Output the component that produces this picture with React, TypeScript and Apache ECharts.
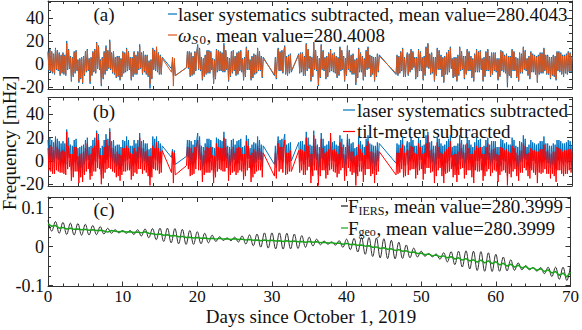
import React, { useEffect, useRef } from "react";
import * as echarts from "echarts";

// ---------- data ----------
// sampling segments of the noisy series (days); gaps between them are straight joins
const segments: [number, number][] = [
  [0, 15.25], [16.5, 17], [18.5, 28.75], [30.25, 32.5], [33.5, 44.25], [46.5, 70],
];
const sampleStep = 0.125;

// panel (a)/(b): laser systematics subtracted [mHz]
const laserSub = [
  // 0 – 15.25
  11,-6,13,-7,11,-8,9,-9, 14,-5,12,-6,10,-10,8,-8, 10,-9,8,-10,20,-5,13,-4, 7,-15,6,-11,11,-8,12,-6,
  4,-16,5,-13,6,-17,7,-10, 11,-7,13,-6,5,-17,6,-10, 11,-7,13,-8,19,-4,16,-5, 4,-19,6,-13,11,-9,16,-6,
  12,-4,21,-5,10,-8,11,-9, 6,-12,7,-11,7,-14,5,-11, 11,-8,10,-7,14,-6,11,-5, 6,-14,6,-11,11,-9,8,-9,
  11,-5,17,-4,10,-9,11,-7, 8,-9,8,-11,3,-21,4,-13, 14,-5,12,-6,14,-7,10,-9, 8,-9,6,
  // 16.5 – 17
  -4,3,-10,2,-10,
  // 18.5 – 28.75
  -3,11,-4,11,
  -11,10,-10,7,-9,11,-6,11, 17,-5,14,-6,6,-14,5,-11, 8,-9,12,-8,12,-8,11,-5, 5,-17,4,-13,13,-7,12,-6,
  11,-6,10,-7,18,-7,12,-5, 6,-15,5,-11,11,-8,12,-6, 7,-10,10,-9,11,-6,12,-7, 5,-14,6,-11,15,-5,12,-5,
  4,-14,7,-12,9,-9,8,-8, 14,-6,11,-6,7,-12,6,
  // 30.25 – 32.5
  -10,6,-13,5,14,-6,11,-6,12,-8,11,16,-9,7,-10,8,-8,9,-7,
  // 33.5 – 44.25
  9,-8,10,-7,
  10,-10,7,-10,18,-6,13,-4, 7,-15,6,-11,19,-5,12,-6, 7,-19,5,-12,17,-5,12,-6, 6,-13,7,-11,10,-7,13,-6,
  9,-7,10,-8,7,-12,6,-10, 15,-6,12,-5,7,-15,5,-10, 16,-5,12,-7,8,-9,9,-9, 4,-18,5,-12,14,-7,10,-7,
  7,-14,5,-11,12,-5,15,-4, 8,-11,7,-9,6,-15,6,-11, 9,-7,8,
  // 46.5 – 70
  -9,8,-10,7,
  -8,11,-6,14,-11,6,-11,5, 10,-10,9,-7,13,-5,11,-3, 6,-13,6,-11,13,-6,11,-6, 6,-14,7,-10,15,-3,18,-4,
  9,-9,10,-8,6,-15,6,-10, 14,-5,12,-5,8,-11,6,-16, 7,-9,10,-9,12,-7,15,-4, 5,-12,6,-11,6,-15,8,-10,
  15,-6,11,-5,7,-13,7,-9, 13,-6,11,-6,7,-12,5,-15, 9,-7,13,-7,11,-7,12,-5, 5,-15,6,-11,11,-6,13,-6,
  7,-11,10,-9,10,-6,10,-7, 5,-14,5,-11,12,-6,11,-7, 8,-8,9,-20,7,-10,7,-12, 13,-6,11,-6,6,-12,5,-15,
  10,-8,9,-8,15,-5,12,-6, 5,-10,7,-13,11,-7,9,-7, 8,-9,7,-16,8,-9,10,-8, 10,-8,14,-6,8,-9,8,-9,
  6,-13,6,-10,8,-11,7,-14, 11,-6,11,-7,10,-9,8,-11, 8,-8,9,-9,11,-7,10,-7, 7,
];
// panel (a): omega_S0 [mHz]
const omegaS0 = [
  // 0 – 15.25
  10,-5,12,-6,10,-7,8,-8, 13,-4,11,-5,9,-9,7,-7, 9,-8,7,-9,18,-4,12,-3, 6,-14,5,-10,10,-7,11,-5,
  3,-15,4,-12,5,-16,6,-9, 10,-6,12,-5,4,-15,5,-9, 10,-6,12,-7,18,-3,15,-4, 3,-17,5,-12,10,-8,14,-5,
  11,-3,19,-4,9,-7,10,-8, 5,-11,6,-10,6,-13,4,-10, 10,-7,9,-6,13,-5,10,-4, 5,-13,5,-10,10,-8,7,-8,
  10,-4,15,-3,9,-8,10,-6, 7,-8,7,-10,2,-17,3,-12, 13,-4,11,-5,15,-6,9,-8, 7,-8,5,
  // 16.5 – 17
  -7,6,-19,5,-10,
  // 18.5 – 28.75
  -3,10,-3,10,
  -10,9,-9,6,-8,10,-5,10, 15,-4,13,-5,5,-13,4,-10, 7,-8,11,-7,11,-7,10,-4, 4,-16,3,-12,12,-6,11,-5,
  10,-5,9,-6,16,-6,11,-4, 5,-14,4,-10,10,-7,11,-5, 6,-9,9,-8,10,-5,11,-6, 4,-13,5,-10,14,-4,11,-4,
  3,-13,6,-11,8,-8,7,-7, 13,-5,10,-5,6,-11,5,
  // 30.25 – 32.5
  -9,5,-12,4,13,-5,10,-5,11,-7,10,15,-8,6,-9,7,-7,8,-6,
  // 33.5 – 44.25
  8,-7,9,-6,
  9,-9,6,-9,17,-5,12,-3, 6,-14,5,-10,18,-4,11,-5, 6,-18,4,-11,16,-4,11,-5, 5,-12,6,-10,9,-6,12,-5,
  8,-6,9,-7,6,-11,5,-9, 14,-5,11,-4,6,-14,4,-9, 15,-4,11,-6,7,-8,8,-8, 3,-16,4,-11,13,-6,9,-6,
  6,-13,4,-10,11,-4,14,-3, 7,-10,6,-8,5,-14,5,-10, 8,-6,7,
  // 46.5 – 70
  -8,7,-9,6,
  -7,10,-5,13,-10,5,-10,4, 9,-9,8,-6,12,-4,10,-2, 5,-12,5,-10,12,-5,10,-5, 5,-13,6,-9,14,-2,17,-3,
  8,-8,9,-7,5,-14,5,-9, 13,-4,11,-4,7,-10,5,-15, 6,-8,9,-8,11,-6,14,-3, 4,-11,5,-10,5,-14,7,-9,
  14,-5,10,-4,6,-12,6,-8, 12,-5,10,-5,6,-11,4,-14, 8,-6,12,-6,10,-6,11,-4, 4,-14,5,-10,10,-5,12,-5,
  6,-10,9,-8,9,-5,9,-6, 4,-13,4,-10,11,-5,10,-6, 7,-7,8,-16,6,-9,6,-11, 12,-5,10,-5,5,-11,4,-14,
  9,-7,8,-7,14,-4,11,-5, 4,-9,6,-12,10,-6,8,-6, 7,-8,6,-15,7,-8,9,-7, 9,-7,13,-5,7,-8,7,-8,
  5,-12,5,-9,7,-10,6,-13, 10,-5,10,-6,9,-8,7,-10, 7,-7,8,-8,10,-6,9,-6, 6,
];
// panel (b): tilt-meter subtracted [mHz]
const tiltSub = [
  // 0 – 15.25
  11,-8,13,-9,12,-11,9,-11, 18,-8,12,-9,10,-10,8,-10, 9,-11,8,-12,25,-7,13,-5, 6,-17,6,-14,12,-9,12,-9,
  4,-19,6,-14,7,-18,8,-12, 11,-9,15,-7,5,-16,6,-13, 11,-9,13,-9,24,-6,18,-7, 5,-20,5,-15,12,-10,18,-7,
  13,-6,25,-7,11,-9,11,-10, 6,-14,8,-13,6,-17,5,-12, 11,-9,11,-9,13,-8,11,-8, 7,-16,6,-13,11,-10,8,-11,
  12,-7,20,-7,11,-11,11,-8, 8,-10,9,-13,4,-21,4,-14, 13,-7,11,-8,16,-8,11,-11, 8,-10,9,
  // 16.5 – 17
  -10,8,-19,7,-12,
  // 18.5 – 28.75
  -4,12,-7,12,
  -13,11,-12,7,-11,12,-7,11, 18,-8,14,-8,7,-18,5,-12, 9,-10,12,-10,11,-10,12,-8, 5,-19,4,-14,15,-9,12,-7,
  11,-8,11,-9,20,-9,12,-6, 7,-17,5,-12,10,-10,12,-9, 7,-12,11,-10,12,-8,11,-9, 6,-16,6,-13,17,-8,13,-6,
  5,-18,7,-14,10,-11,8,-9, 13,-8,11,-8,8,-14,7,
  // 30.25 – 32.5
  -13,7,-15,5,15,-9,12,-7,12,-10,11,18,-12,7,-11,7,-9,9,-9,
  // 33.5 – 44.25
  9,-10,10,-8,
  9,-12,8,-12,20,-8,13,-5, 6,-19,6,-13,22,-8,13,-8, 7,-21,6,-13,19,-8,11,-8, 7,-15,8,-12,10,-8,24,-7,
  9,-9,10,-10,8,-14,6,-11, 16,-8,12,-6,6,-17,5,-13, 18,-6,13,-9,8,-12,8,-10, 4,-21,5,-13,14,-9,10,-9,
  7,-18,5,-12,13,-7,17,-7, 8,-13,8,-11,7,-19,7,-12, 9,-9,8,
  // 46.5 – 70
  -12,7,-11,7,
  -10,11,-7,14,-14,7,-13,6, 10,-12,9,-8,13,-7,12,-7, 7,-15,6,-12,15,-8,12,-7, 6,-16,7,-11,15,-6,22,-6,
  9,-10,10,-9,7,-19,7,-13, 16,-8,12,-6,7,-13,6,-19, 8,-11,10,-10,12,-9,17,-7, 5,-14,6,-12,6,-18,8,-12,
  15,-7,11,-6,8,-15,7,-12, 15,-8,11,-8,6,-14,6,-19, 9,-8,13,-9,11,-9,12,-8, 6,-17,6,-13,12,-9,15,-7,
  7,-13,10,-10,10,-8,11,-9, 6,-18,5,-12,12,-9,11,-8, 9,-10,10,-21,8,-11,7,-14, 13,-9,11,-7,7,-13,5,-17,
  9,-10,9,-10,15,-6,13,-8, 6,-13,7,-15,11,-8,9,-10, 9,-12,8,-19,8,-10,10,-11, 10,-10,14,-7,8,-11,9,-11,
  7,-15,6,-11,8,-13,8,-18, 12,-8,11,-8,10,-11,8,-13, 9,-11,9,-11,10,-8,10,-10, 7,
];
// panel (b) shows the laser series relative to the common mean (offset)
const laserOffsetB = 7;

// panel (c): sampled every half day from day 0 to 70
const iersStep = 0.5;
const fIERS = [
  0.067,0.0395,0.064,0.034,0.062,0.031,0.060,0.0295,0.059,0.029,0.057,0.0295,0.054,0.0305,0.051,0.032,0.047,0.034,0.043,0.035,
  0.041,0.034,0.041,0.031,0.043,0.027,0.045,0.0225,0.046,0.0175,0.047,0.013,0.047,0.0095,0.046,0.007,0.044,0.0055,0.041,0.0055,
  0.038,0.007,0.034,0.0095,0.029,0.013,0.025,0.0155,0.022,0.015,0.024,0.0115,0.027,0.0065,0.030,0.002,0.032,-0.0015,0.035,-0.004,
  0.035,-0.006,0.035,-0.0065,0.034,-0.006,0.032,-0.005,0.028,-0.002,0.024,0.0015,0.019,0.0045,0.014,0.006,0.012,0.0035,0.015,-0.002,
  0.019,-0.008,0.021,-0.014,0.023,-0.020,0.023,-0.0255,0.022,-0.029,0.020,-0.031,0.016,-0.0315,0.011,-0.0305,0.004,-0.029,-0.004,-0.027,
  -0.012,-0.025,-0.018,-0.0265,-0.019,-0.0325,-0.016,-0.0395,-0.013,-0.0465,-0.012,-0.0525,-0.011,-0.0575,-0.012,-0.0615,-0.013,-0.0635,-0.016,-0.064,
  -0.020,-0.0635,-0.027,-0.0625,-0.034,-0.061,-0.042,-0.0595,-0.049,-0.0595,-0.054,-0.063,-0.054,-0.0695,-0.053,-0.077,-0.053,-0.084,-0.053,-0.087,
  -0.049,
];
const fGeo = [
  0.058,0.052,0.054,0.047,0.049,0.045,0.047,0.044,0.045,0.043,0.044,0.042,0.043,0.041,0.042,0.040,0.037,0.041,0.039,0.038,
  0.039,0.037,0.038,0.036,0.037,0.035,0.038,0.034,0.033,0.031,0.032,0.029,0.030,0.027,0.028,0.025,0.026,0.023,0.024,0.022,
  0.023,0.021,0.022,0.020,0.021,0.019,0.021,0.019,0.020,0.018,0.020,0.018,0.019,0.017,0.018,0.016,0.017,0.015,0.017,0.015,
  0.016,0.014,0.015,0.013,0.015,0.013,0.014,0.012,0.013,0.011,0.013,0.011,0.012,0.010,0.011,0.009,0.010,0.008,0.009,0.006,
  0.008,0.005,0.006,0.003,0.004,0.001,0.002,-0.002,-0.001,-0.005,-0.003,-0.007,-0.006,-0.010,-0.008,-0.012,-0.011,-0.015,-0.014,-0.018,
  -0.017,-0.021,-0.019,-0.024,-0.022,-0.026,-0.024,-0.029,-0.026,-0.032,-0.029,-0.035,-0.031,-0.037,-0.034,-0.040,-0.035,-0.042,-0.037,-0.044,
  -0.039,-0.047,-0.043,-0.050,-0.045,-0.053,-0.048,-0.055,-0.051,-0.058,-0.054,-0.061,-0.057,-0.064,-0.060,-0.068,-0.064,-0.074,-0.068,-0.078,
  -0.066,
];

// ticks
const xTicks = [0, 10, 20, 30, 40, 50, 60, 70];
const xMinorTicks = [2,4,6,8,12,14,16,18,22,24,26,28,32,34,36,38,42,44,46,48,52,54,56,58,62,64,66,68];
const freqTicks = [-20, 0, 20, 40];
const freqMinorTicks = [-13.33, -6.67, 6.67, 13.33, 26.67, 33.33, 46.67, 53.33];
const geoTicks = [-0.1, 0, 0.1];
const geoMinorTicks = [-0.075, -0.05, -0.025, 0.025, 0.05, 0.075, 0.125];

// ---------- styling ----------
const FONT = '"Liberation Serif", "Times New Roman", serif';
const AX = "#333333";
const TXT = "#111111";
const BLUE = "#0072BD";
const ORANGE = "#D95319";
const RED = "#FF0000";
const GREEN = "#1AA31A";

const grids = [
  { left: 48, top: 1, width: 524, height: 88 },
  { left: 48, top: 97.5, width: 524, height: 88.5 },
  { left: 48, top: 197, width: 524, height: 89.5 },
];

function xAxesFor(g: number, labels: boolean) {
  const base = { type: "value", gridIndex: g, min: 0, max: 70, splitLine: { show: false } };
  const line = { show: true, onZero: false, lineStyle: { color: AX, width: 1 } };
  const major = { show: true, inside: true, length: 5, customValues: xTicks, lineStyle: { color: AX, width: 1 } };
  const minor = { show: true, inside: true, length: 3, customValues: xMinorTicks, lineStyle: { color: AX, width: 1 } };
  return [
    { ...base, position: "bottom", axisLine: line, axisTick: major,
      axisLabel: { show: labels, customValues: xTicks, margin: 2, fontSize: 17, lineHeight: 16, fontFamily: FONT, color: TXT } },
    { ...base, position: "bottom", axisLine: { show: false, onZero: false }, axisTick: minor, axisLabel: { show: false } },
    { ...base, position: "top", axisLine: line, axisTick: major, axisLabel: { show: false } },
    { ...base, position: "top", axisLine: { show: false, onZero: false }, axisTick: minor, axisLabel: { show: false } },
  ];
}

function yAxesFor(g: number, min: number, max: number, majorV: number[], minorV: number[]) {
  const base = { type: "value", gridIndex: g, min, max, splitLine: { show: false } };
  const line = { show: true, onZero: false, lineStyle: { color: AX, width: 1 } };
  const major = { show: true, inside: true, length: 5, customValues: majorV, lineStyle: { color: AX, width: 1 } };
  const minor = { show: true, inside: true, length: 3, customValues: minorV, lineStyle: { color: AX, width: 1 } };
  return [
    { ...base, position: "left", axisLine: line, axisTick: major,
      axisLabel: { show: true, customValues: majorV, margin: 4, fontSize: 18, fontFamily: FONT, color: TXT } },
    { ...base, position: "left", axisLine: { show: false, onZero: false }, axisTick: minor, axisLabel: { show: false } },
    { ...base, position: "right", axisLine: line, axisTick: major, axisLabel: { show: false } },
    { ...base, position: "right", axisLine: { show: false, onZero: false }, axisTick: minor, axisLabel: { show: false } },
  ];
}

// sample times of the noisy series, segment by segment
function sampleDays(): number[] {
  const out: number[] = [];
  for (const [s, e] of segments) {
    const n = Math.round((e - s) / sampleStep) + 1;
    for (let j = 0; j < n; j++) out.push(s + j * sampleStep);
  }
  return out;
}

function txt(text: string, x: number, y: number, extra: any = {}) {
  return {
    type: "text", x, y, silent: true,
    style: { text, fontSize: 19, fontFamily: FONT, fill: TXT, align: "left", verticalAlign: "middle", ...extra },
  };
}
function seg(x1: number, x2: number, y: number, color: string) {
  return { type: "line", silent: true, shape: { x1, y1: y, x2, y2: y }, style: { stroke: color, lineWidth: 1.2 } };
}

function buildOption() {
  const days = sampleDays();
  const blueA = days.map((d, i) => [d, laserSub[i]]);
  const orangeA = days.map((d, i) => [d, omegaS0[i]]);
  const blueB = days.map((d, i) => [d, laserSub[i] + laserOffsetB]);
  const redB = days.map((d, i) => [d, tiltSub[i]]);
  const black = fIERS.map((v, i) => [i * iersStep, v]);
  const green = fGeo.map((v, i) => [i * iersStep, v]);

  const lineS = (data: any[], g: number, color: string, width: number, extra: any = {}) => ({
    type: "line", data, xAxisIndex: g * 4, yAxisIndex: g * 4, symbol: "none", showSymbol: false,
    lineStyle: { color, width }, itemStyle: { color },
    emphasis: { disabled: true }, silent: true, ...extra,
  });

  return {
    animation: false,
    backgroundColor: "#ffffff",
    grid: grids,
    xAxis: [...xAxesFor(0, false), ...xAxesFor(1, false), ...xAxesFor(2, true)],
    yAxis: [
      ...yAxesFor(0, -21.5, 54.5, freqTicks, freqMinorTicks),
      ...yAxesFor(1, -21.5, 54.5, freqTicks, freqMinorTicks),
      ...yAxesFor(2, -0.1025, 0.127, geoTicks, geoMinorTicks),
    ],
    series: [
      lineS(blueA, 0, BLUE, 1),
      lineS(orangeA, 0, ORANGE, 1),
      lineS(blueB, 1, BLUE, 1),
      lineS(redB, 1, RED, 1),
      lineS(black, 2, "#1a1a1a", 0.9, { smooth: 0.4 }),
      lineS(green, 2, GREEN, 1.5),
    ],
    graphic: {
      elements: [
        // panel labels
        txt("(a)", 104, 14, { align: "center" }),
        txt("(b)", 104, 111, { align: "center" }),
        txt("(c)", 104, 209, { align: "center" }),
        // legend (a)
        seg(168, 177, 14, BLUE),
        txt("laser systematics subtracted, mean value=280.4043", 178, 14),
        seg(168, 177, 35, ORANGE),
        txt("ω", 178, 35, { fontStyle: "italic" }),
        txt("S", 191.5, 39.5, { fontSize: 13, fontStyle: "italic", lineHeight: 12 }),
        txt("0", 199.5, 39.5, { fontSize: 13, lineHeight: 12 }),
        txt(", mean value=280.4008", 206.5, 35),
        // legend (b)
        seg(343, 355, 110, BLUE),
        txt("laser systematics subtracted", 357, 110),
        seg(343, 355, 131.5, RED),
        txt("tilt-meter subtracted", 357, 131.5),
        // legend (c)
        seg(341, 348, 206, "#1a1a1a"),
        txt("F", 348, 206),
        txt("IERS", 358.5, 210.5, { fontSize: 12, lineHeight: 11 }),
        txt(", mean value=280.3999", 384.5, 206),
        seg(341, 348, 228, GREEN),
        txt("F", 348, 228),
        txt("geo", 358.5, 232, { fontSize: 12, lineHeight: 11 }),
        txt(", mean value=280.3999", 376.5, 228),
        // axis titles
        txt("Days since October 1, 2019", 311, 316.5, { align: "center", lineHeight: 16 }),
        {
          type: "text", x: 9, y: 143, rotation: Math.PI / 2, silent: true,
          style: { text: "Frequency [mHz]", fontSize: 19, fontFamily: FONT, fill: TXT, align: "center", verticalAlign: "middle" },
        },
      ],
    },
  };
}

export default function App() {
  const ref = useRef<HTMLDivElement>(null);
  useEffect(() => {
    if (!ref.current) return;
    const chart = echarts.init(ref.current, null, { renderer: "svg" });
    chart.setOption(buildOption() as any);
    return () => chart.dispose();
  }, []);
  return (
    <div
      ref={ref}
      style={{ position: "absolute", left: 0, top: 0, width: 582, height: 330, background: "#fff" }}
    />
  );
}
